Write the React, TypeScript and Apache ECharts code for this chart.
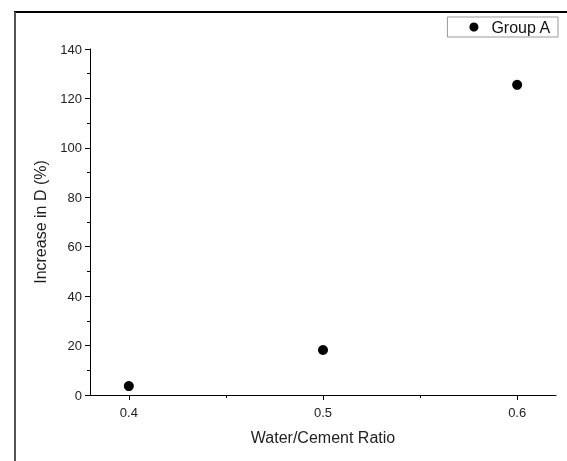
import React, { useEffect, useRef } from "react";
import * as echarts from "echarts";

const ratios = [0.4, 0.5, 0.6];
const increaseD = [3.6, 18.2, 125.5];
const xMajorTicks = [0.4, 0.5, 0.6];
const xMinorTicks = [0.45, 0.55];
const seriesName = "Group A";

export default function App() {
  const ref = useRef<HTMLDivElement>(null);
  useEffect(() => {
    if (!ref.current) return;
    const chart = echarts.init(ref.current, null, { renderer: "svg" });
    const font = "'Liberation Sans', Arial, sans-serif";
    chart.setOption({
      animation: false,
      textStyle: { fontFamily: font },
      grid: { left: 90, top: 49, right: 11, bottom: 66 },
      legend: {
        right: 9,
        top: 17,
        orient: "horizontal",
        data: [{ name: seriesName, icon: "circle", itemStyle: { color: "#000", opacity: 1 } }],
        itemWidth: 9,
        itemHeight: 9,
        padding: [2, 7, 2, 22],
        borderColor: "#999",
        borderWidth: 1,
        borderRadius: 0,
        backgroundColor: "#fff",
        textStyle: { fontSize: 16, color: "#111", fontFamily: font, padding: [0, 0, 0, 8] },
      },
      xAxis: [
        {
          type: "value",
          min: 0.38,
          max: 0.62,
          name: "Water/Cement Ratio",
          nameLocation: "middle",
          nameGap: 34,
          nameTextStyle: { fontSize: 16, color: "#222", fontFamily: font },
          axisLine: { lineStyle: { color: "#000", width: 1 } },
          axisTick: { show: true, inside: false, length: 5, customValues: xMajorTicks, lineStyle: { color: "#000" } },
          axisLabel: { customValues: xMajorTicks, fontSize: 13, color: "#222", margin: 11, formatter: (v: number) => v.toFixed(1) },
          splitLine: { show: false },
        },
        {
          type: "value",
          min: 0.38,
          max: 0.62,
          position: "bottom",
          axisLine: { show: false },
          axisTick: { show: true, inside: false, length: 3, customValues: xMinorTicks, lineStyle: { color: "#000" } },
          axisLabel: { show: false },
          splitLine: { show: false },
        },
      ],
      yAxis: {
        type: "value",
        min: 0,
        max: 140,
        interval: 20,
        name: "Increase in D (%)",
        nameLocation: "middle",
        nameGap: 42,
        nameTextStyle: { fontSize: 16, color: "#222", fontFamily: font },
        axisLine: { show: true, lineStyle: { color: "#000", width: 1 } },
        axisTick: { show: true, inside: false, length: 5, lineStyle: { color: "#000" } },
        minorTick: { show: true, splitNumber: 2, length: 3, lineStyle: { color: "#000" } },
        axisLabel: { fontSize: 13, color: "#222", margin: 8 },
        splitLine: { show: false },
      },
      series: [
        {
          name: seriesName,
          type: "scatter",
          xAxisIndex: 0,
          symbol: "circle",
          symbolSize: 10,
          itemStyle: { color: "#000", opacity: 1 },
          data: ratios.map((r, i) => [r, increaseD[i]]),
        },
      ],
      graphic: [
        { type: "line", shape: { x1: 14, y1: 12, x2: 567, y2: 12 }, style: { stroke: "#000", lineWidth: 2 } },
        { type: "line", shape: { x1: 15, y1: 12, x2: 15, y2: 461 }, style: { stroke: "#555", lineWidth: 2 } },
      ],
    });
    return () => chart.dispose();
  }, []);
  return <div ref={ref} style={{ width: 567, height: 461, position: "fixed", left: 0, top: 0 }} />;
}
